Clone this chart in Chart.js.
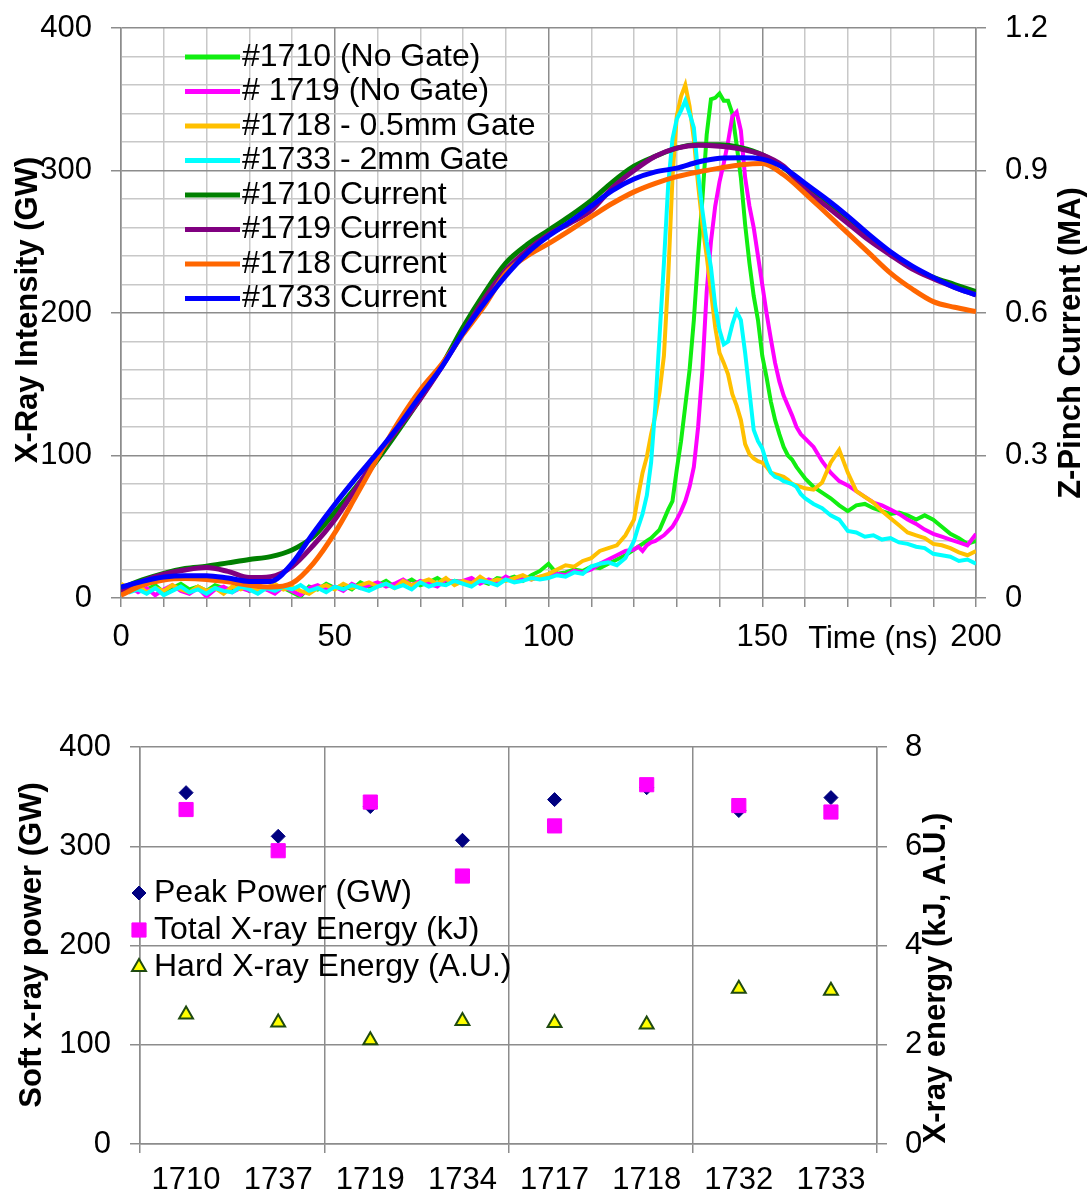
<!DOCTYPE html>
<html>
<head>
<meta charset="utf-8">
<script src="https://cdn.jsdelivr.net/npm/chart.js@4.4.1/dist/chart.umd.min.js"></script>
<style>
  html, body { margin: 0; padding: 0; background: #fff; }
  #wrap { position: relative; width: 1091px; height: 1196px; }
  #topChart { position: absolute; left: 0; top: 0; }
  #bottomChart { position: absolute; left: 0; top: 690px; }
</style>
</head>
<body>
<div id="wrap">
  <canvas id="topChart" width="1091" height="690"></canvas>
  <canvas id="bottomChart" width="1091" height="506"></canvas>
</div>
<script>
// ---- top panel: x-ray traces (GW) and pinch currents (MA) vs time (ns) ----

const xrayTimes = [
  0, 2, 4, 6, 8, 10, 12, 14, 16, 18, 20, 22, 24, 26, 28, 30, 32, 34, 36, 38,
  40, 42, 44, 46, 48, 50, 52, 54, 56, 58, 60, 62, 64, 66, 68, 70, 72, 74, 76, 78,
  80, 82, 84, 86, 88, 90, 92, 94, 96, 98, 100, 102, 104, 106, 108, 110, 112, 114, 116, 118,
  120, 121, 122, 123, 124, 125, 126, 127, 128, 129, 130, 131, 132, 133, 134, 135, 136, 137, 138, 139, 140,
  141, 142, 143, 144, 145, 146, 147, 148, 149, 150, 151, 152, 153, 154, 155, 156, 157, 158, 159, 160,
  162, 164, 166, 168, 170, 172, 174, 176, 178, 180, 182, 184, 186, 188, 190, 192, 194, 196, 198, 200
];

const xray1710 = [
  7, 5, 8, 6, 9, 4, 7, 10, 6, 8, 5, 9, 7, 6, 10, 5, 8, 6, 9, 7,
  4, 1, 8, 6, 10, 7, 9, 6, 11, 8, 9, 12, 8, 10, 13, 9, 11, 14, 10, 12,
  11, 13, 12, 10, 14, 13, 15, 12, 16, 19, 24, 17, 18, 20, 19, 22, 21, 24, 27, 30,
  34, 36, 38, 40, 42, 45, 48, 55, 62, 68, 90, 110, 135, 160, 195, 240, 280, 325, 350, 351, 354,
  349, 349, 340, 318, 295, 262, 235, 212, 195, 170, 155, 138, 125, 115, 106, 100, 97, 92, 88, 84,
  78, 74, 70, 65, 61, 65, 66, 63, 61, 59, 60, 58, 55, 58, 55, 50, 45, 42, 38, 40
];

const xray1719 = [
  5, 8, 4, 7, 2, 6, 9, 5, 3, 7, 1, 6, 8, 4, 7, 5, 9, 6, 3, 8,
  5, 2, 7, 9, 6, 8, 5, 10, 7, 9, 11, 8, 10, 13, 9, 12, 10, 8, 13, 11,
  12, 14, 10, 13, 11, 15, 12, 14, 13, 15, 15, 17, 16, 19, 18, 20, 24, 27, 30, 33,
  34, 36, 33, 37, 39, 40, 42, 44, 47, 50, 55, 61, 68, 78, 92, 120, 160, 215, 250, 275, 292,
  305, 320, 338, 341, 328, 295, 275, 260, 240, 220, 200, 182, 165, 152, 142, 135, 128, 120, 115, 112,
  106, 96, 88, 82, 79, 75, 71, 67, 65, 62, 59, 55, 52, 48, 45, 43, 41, 39, 37, 45
];

const xray1718 = [
  10, 6, 9, 4, 7, 5, 9, 6, 4, 8, 5, 7, 3, 8, 6, 9, 5, 7, 10, 6,
  8, 5, 3, 7, 9, 6, 10, 7, 9, 11, 8, 10, 7, 12, 9, 11, 13, 10, 14, 9,
  12, 10, 15, 11, 13, 12, 14, 16, 13, 15, 17, 20, 23, 22, 26, 28, 33, 35, 37, 44,
  55, 72, 88, 99, 115, 128, 145, 170, 225, 295, 338, 352, 360, 345, 322, 290, 262, 240, 215, 190, 172,
  165, 157, 143, 135, 125, 108, 101, 98, 96, 95, 92, 88, 87, 86, 85, 83, 80, 79, 78, 77,
  76, 81, 95, 104, 88, 75, 71, 67, 61, 56, 51, 46, 44, 42, 38, 37, 35, 32, 30, 33
];

const xray1733 = [
  9, 4, 6, 3, 7, 2, 5, 8, 4, 6, 3, 7, 5, 4, 8, 6, 3, 7, 5, 8,
  6, 9, 5, 7, 4, 8, 6, 9, 7, 5, 8, 10, 7, 9, 6, 11, 8, 10, 9, 12,
  10, 8, 12, 11, 9, 13, 11, 12, 14, 13, 14, 16, 15, 18, 17, 22, 24, 25, 23, 28,
  40, 50, 59, 72, 95, 135, 185, 235, 290, 322, 336, 342, 349, 340, 330, 298, 272, 250, 232, 205, 188,
  178, 180, 192, 201, 195, 172, 145, 118, 110, 105, 95, 88, 85, 84, 82, 81, 80, 78, 73, 70,
  66, 63, 58, 55, 47, 46, 43, 44, 41, 42, 39, 38, 36, 35, 31, 30, 29, 26, 27, 24
];

const currentTimes = [
  0, 5, 10, 15, 20, 25, 30, 35, 40, 45, 50, 55, 60, 65, 70, 75, 80, 85, 90, 95, 100,
  105, 110, 115, 120, 125, 130, 135, 140, 145, 150, 155, 160, 165, 170, 175, 180, 185, 190, 195, 200
];

const current1710 = [
  0.020, 0.038, 0.052, 0.062, 0.067, 0.074, 0.081, 0.087, 0.101, 0.129, 0.180, 0.234, 0.291, 0.354,
  0.420, 0.489, 0.570, 0.642, 0.705, 0.744, 0.774, 0.804, 0.837, 0.876, 0.909, 0.930, 0.947, 0.954,
  0.954, 0.948, 0.933, 0.906, 0.867, 0.831, 0.795, 0.759, 0.726, 0.696, 0.675, 0.660, 0.645
];

const current1719 = [
  0.013, 0.035, 0.050, 0.059, 0.064, 0.056, 0.043, 0.045, 0.066, 0.111, 0.165, 0.231, 0.299, 0.359,
  0.419, 0.486, 0.558, 0.630, 0.690, 0.732, 0.765, 0.789, 0.816, 0.864, 0.900, 0.930, 0.947, 0.953,
  0.951, 0.945, 0.933, 0.909, 0.861, 0.825, 0.789, 0.753, 0.722, 0.693, 0.672, 0.654, 0.638
];

const current1718 = [
  0.006, 0.027, 0.038, 0.041, 0.039, 0.034, 0.027, 0.023, 0.031, 0.073, 0.137, 0.215, 0.295, 0.372,
  0.438, 0.492, 0.555, 0.615, 0.684, 0.720, 0.746, 0.774, 0.803, 0.831, 0.855, 0.873, 0.887, 0.897,
  0.905, 0.912, 0.915, 0.891, 0.852, 0.810, 0.768, 0.726, 0.684, 0.651, 0.624, 0.612, 0.603
];

const current1733 = [
  0.023, 0.035, 0.044, 0.047, 0.047, 0.042, 0.035, 0.035, 0.073, 0.137, 0.197, 0.253, 0.306, 0.363,
  0.426, 0.486, 0.558, 0.621, 0.678, 0.726, 0.762, 0.792, 0.825, 0.858, 0.882, 0.897, 0.905, 0.918,
  0.926, 0.927, 0.924, 0.906, 0.873, 0.840, 0.804, 0.765, 0.729, 0.699, 0.675, 0.654, 0.638
];

const topLabels = [
  '#1710 (No Gate)', '# 1719 (No Gate)', '#1718 - 0.5mm Gate', '#1733 - 2mm Gate',
  '#1710 Current', '#1719 Current', '#1718 Current', '#1733 Current'
];

// ---- bottom panel: per-shot summary ----
const shots = ['1710', '1737', '1719', '1734', '1717', '1718', '1732', '1733'];
const peakPower = [354, 310, 340, 306, 347, 359, 336, 349];           // GW
const totalEnergy = [6.74, 5.91, 6.89, 5.40, 6.41, 7.24, 6.82, 6.69];  // kJ
const hardEnergy = [2.61, 2.45, 2.09, 2.48, 2.44, 2.41, 3.13, 3.09];   // A.U.
const bottomLabels = ['Peak Power (GW)', 'Total X-ray Energy (kJ)', 'Hard X-ray Energy (A.U.)'];

const FONT = '"Liberation Sans", Arial, sans-serif';
const MAJOR = '#8c8c8c';
const MINOR = '#c8c8c8';
const NONE = 'rgba(0,0,0,0)';
const TICK_FONT = { size: 31 };

Chart.defaults.font.family = FONT;
Chart.defaults.color = '#000';

const pts = (ts, vs) => ts.map((t, i) => ({ x: t, y: vs[i] }));

// fixed box size for an axis, without the extra label padding chart.js adds
const fixBox = (w, h) => s => {
  if (w != null) s.width = w;
  if (h != null) s.height = h;
  s.paddingTop = 0; s.paddingBottom = 0;
  s.paddingLeft = 0; s.paddingRight = 0;
};

// free text (axis titles placed like the original)
const textOverlay = {
  id: 'textOverlay',
  afterDraw(chart, args, opts) {
    const ctx = chart.ctx;
    (opts.items || []).forEach(t => {
      ctx.save();
      ctx.translate(t.x, t.y);
      if (t.rotate) ctx.rotate(t.rotate);
      ctx.font = t.font;
      ctx.fillStyle = '#000';
      ctx.textAlign = 'center';
      ctx.textBaseline = 'middle';
      ctx.fillText(t.text, 0, 0);
      ctx.restore();
    });
  }
};

function drawMarker(ctx, ds, x, y) {
  const r = ds.pointRadius;
  ctx.fillStyle = ds.backgroundColor;
  ctx.strokeStyle = ds.borderColor;
  ctx.lineWidth = ds.borderWidth || 1;
  ctx.beginPath();
  if (ds.pointStyle === 'rectRot') {
    ctx.moveTo(x, y - r); ctx.lineTo(x + r, y); ctx.lineTo(x, y + r); ctx.lineTo(x - r, y);
  } else if (ds.pointStyle === 'rect') {
    const s = r * Math.SQRT1_2;
    ctx.rect(x - s, y - s, 2 * s, 2 * s);
  } else {
    const h = r * 0.87;
    ctx.moveTo(x, y - r); ctx.lineTo(x + h, y + r / 2); ctx.lineTo(x - h, y + r / 2);
  }
  ctx.closePath();
  ctx.fill();
  ctx.stroke();
}

// legend drawn inside the plot area, as in the original
const insideLegend = {
  id: 'insideLegend',
  afterDatasetsDraw(chart, args, opts) {
    if (opts.x == null) return;
    const ctx = chart.ctx;
    ctx.save();
    ctx.font = opts.font;
    ctx.textBaseline = 'middle';
    ctx.textAlign = 'left';
    chart.data.datasets.forEach((ds, row) => {
      const y = opts.y + row * opts.rowH;
      if (opts.kind === 'line') {
        ctx.strokeStyle = ds.borderColor;
        ctx.lineWidth = 5;
        ctx.beginPath();
        ctx.moveTo(opts.x, y);
        ctx.lineTo(opts.x + opts.lineLen, y);
        ctx.stroke();
      } else {
        drawMarker(ctx, ds, opts.x, y);
      }
      ctx.fillStyle = '#000';
      ctx.fillText(ds.label, opts.textX, y);
    });
    ctx.restore();
  }
};

const xraySet = (label, data, color, order) => ({
  label, data: pts(xrayTimes, data), yAxisID: 'y',
  borderColor: color, backgroundColor: color, borderWidth: 4,
  pointRadius: 0, tension: 0, order
});
const currentSet = (label, data, color, order) => ({
  label, data: pts(currentTimes, data), yAxisID: 'y2',
  borderColor: color, backgroundColor: color, borderWidth: 5,
  pointRadius: 0, cubicInterpolationMode: 'monotone', order
});

new Chart(document.getElementById('topChart'), {
  type: 'line',
  data: {
    datasets: [
      xraySet(topLabels[0], xray1710, '#11ee11', 8),
      xraySet(topLabels[1], xray1719, '#ff00ff', 7),
      xraySet(topLabels[2], xray1718, '#ffc000', 6),
      xraySet(topLabels[3], xray1733, '#00ffff', 5),
      currentSet(topLabels[4], current1710, '#008000', 4),
      currentSet(topLabels[5], current1719, '#800080', 3),
      currentSet(topLabels[6], current1718, '#ff6600', 2),
      currentSet(topLabels[7], current1733, '#0000ff', 1)
    ]
  },
  options: {
    responsive: false,
    animation: false,
    layout: { padding: { top: 28, left: 0, right: 0, bottom: 0 } },
    scales: {
      x: {
        type: 'linear', min: 0, max: 200,
        ticks: {
          stepSize: 10, autoSkip: false, maxRotation: 0, padding: 12,
          font: TICK_FONT, color: '#000',
          callback: v => (v % 50 === 0 ? String(v) : '')
        },
        grid: {
          lineWidth: 1.5, tickLength: 9,
          color: c => (c.tick && c.tick.value % 50 === 0 ? MAJOR : MINOR),
          tickColor: MAJOR
        },
        border: { color: MAJOR, width: 1.5 },
        afterFit: fixBox(null, 92)
      },
      y: {
        position: 'left', min: 0, max: 400,
        ticks: {
          stepSize: 20, autoSkip: false, padding: 19,
          font: TICK_FONT, color: '#000',
          callback: v => (v % 100 === 0 ? String(v) : '')
        },
        grid: {
          lineWidth: 1.5, tickLength: 10,
          color: c => (c.tick && c.tick.value % 100 === 0 ? MAJOR : MINOR),
          tickColor: c => (c.tick && c.tick.value % 100 === 0 ? MAJOR : NONE)
        },
        border: { color: MAJOR, width: 1.5 },
        afterFit: fixBox(121, null)
      },
      y2: {
        position: 'right', min: 0, max: 1.2,
        ticks: {
          stepSize: 0.3, autoSkip: false, padding: 19,
          font: TICK_FONT, color: '#000',
          callback: v => String(+v.toFixed(1))
        },
        grid: { drawOnChartArea: false, lineWidth: 1.5, tickLength: 10, tickColor: MAJOR },
        border: { color: MAJOR, width: 1.5 },
        afterFit: fixBox(115, null)
      }
    },
    plugins: {
      legend: { display: false },
      tooltip: { enabled: false },
      insideLegend: { kind: 'line', x: 185, lineLen: 55, textX: 242, y: 57, rowH: 34.5, font: '32px ' + FONT },
      textOverlay: {
        items: [
          { text: 'X-Ray Intensity (GW)', x: 28, y: 310, rotate: -Math.PI / 2, font: 'bold 31px ' + FONT },
          { text: 'Z-Pinch Current (MA)', x: 1071, y: 343, rotate: -Math.PI / 2, font: 'bold 31px ' + FONT },
          { text: 'Time (ns)', x: 873, y: 639, font: '31px ' + FONT }
        ]
      }
    }
  },
  plugins: [insideLegend, textOverlay]
});

new Chart(document.getElementById('bottomChart'), {
  type: 'line',
  data: {
    labels: shots,
    datasets: [
      {
        label: bottomLabels[0], data: peakPower, yAxisID: 'y', showLine: false, order: 2,
        pointStyle: 'rectRot', pointRadius: 7, backgroundColor: '#000080', borderColor: '#000080', borderWidth: 1
      },
      {
        label: bottomLabels[1], data: totalEnergy, yAxisID: 'y2', showLine: false, order: 1,
        pointStyle: 'rect', pointRadius: 10, backgroundColor: '#ff00ff', borderColor: '#ff00ff', borderWidth: 1
      },
      {
        label: bottomLabels[2], data: hardEnergy, yAxisID: 'y2', showLine: false, order: 0,
        pointStyle: 'triangle', pointRadius: 8, backgroundColor: '#ffff00', borderColor: '#1f4a10', borderWidth: 2
      }
    ]
  },
  options: {
    responsive: false,
    animation: false,
    layout: { padding: { top: 57, left: 0, right: 0, bottom: 0 } },
    scales: {
      x: {
        type: 'category', offset: true,
        ticks: { autoSkip: false, maxRotation: 0, padding: 9, font: TICK_FONT, color: '#000' },
        grid: {
          offset: true, lineWidth: 1.5, tickLength: 9,
          color: c => (c.index === undefined || c.index % 2 === 0 ? MAJOR : NONE),
          tickColor: c => (c.index === undefined || c.index % 2 === 0 ? MAJOR : NONE)
        },
        border: { color: MAJOR, width: 1.5 },
        afterFit: fixBox(null, 52)
      },
      y: {
        position: 'left', min: 0, max: 400,
        ticks: { stepSize: 100, padding: 19, font: TICK_FONT, color: '#000' },
        grid: { lineWidth: 1.5, tickLength: 10, color: MAJOR, tickColor: MAJOR },
        border: { color: MAJOR, width: 1.5 },
        afterFit: fixBox(140, null)
      },
      y2: {
        position: 'right', min: 0, max: 8,
        ticks: { stepSize: 2, padding: 18, font: TICK_FONT, color: '#000' },
        grid: { drawOnChartArea: false, lineWidth: 1.5, tickLength: 10, tickColor: MAJOR },
        border: { color: MAJOR, width: 1.5 },
        afterFit: fixBox(214, null)
      }
    },
    plugins: {
      legend: { display: false },
      tooltip: { enabled: false },
      insideLegend: { kind: 'marker', x: 139, textX: 154, y: 203, rowH: 37, font: '32px ' + FONT },
      textOverlay: {
        items: [
          { text: 'Soft x-ray power (GW)', x: 32, y: 255, rotate: -Math.PI / 2, font: 'bold 31px ' + FONT },
          { text: 'X-ray energy (kJ, A.U.)', x: 936, y: 288, rotate: -Math.PI / 2, font: 'bold 31px ' + FONT }
        ]
      }
    }
  },
  plugins: [insideLegend, textOverlay]
});
</script>
</body>
</html>
